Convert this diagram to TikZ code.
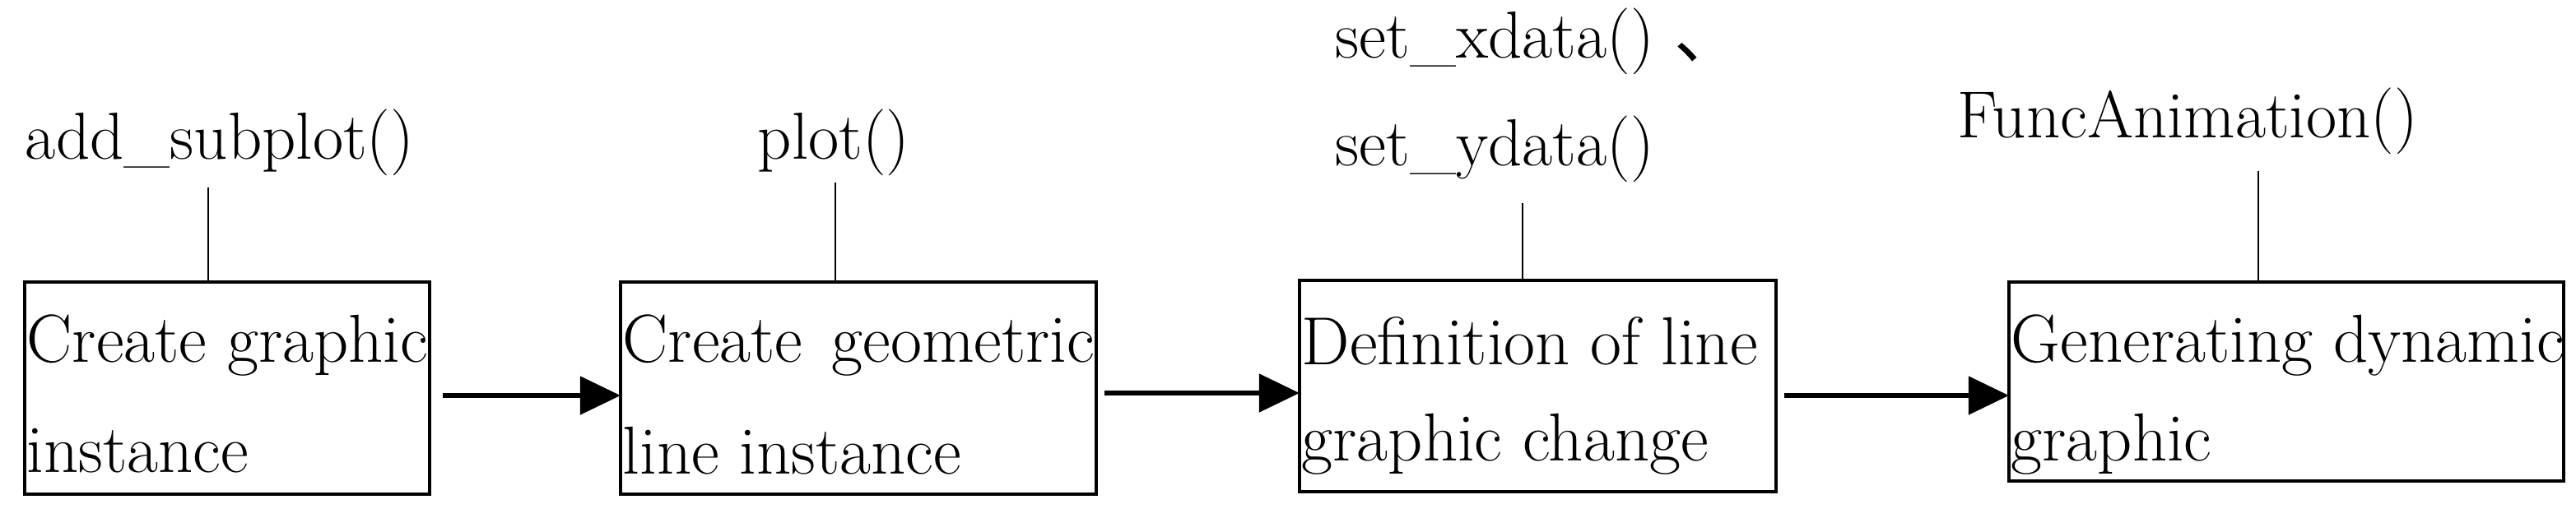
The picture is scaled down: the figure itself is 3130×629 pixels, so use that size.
\documentclass[tikz,border=0pt]{standalone}
\usepackage{fontspec}
\newfontfamily\cjkf{Noto Sans CJK SC}
\usetikzlibrary{arrows.meta}
\begin{document}
\begin{tikzpicture}[x=0.01cm,y=-0.01cm,
  box/.style={draw,line width=1.3pt},
  lbl/.style={font=\fontsize{23}{27}\selectfont,inner sep=0pt},
  txt/.style={font=\fontsize{23.5}{27}\selectfont,anchor=west,inner sep=0pt},
  arr/.style={line width=1.8pt,-{Triangle[length=14pt,width=13pt]}},
  stem/.style={line width=0.8pt}]
\useasboundingbox (0,0) rectangle (3130,629);
\draw[box] (30,343) rectangle (522,601);
\draw[box] (754,343) rectangle (1332,601);
\draw[box] (1579,341) rectangle (2158,598);
\draw[box] (2441,343) rectangle (3115,585);
\coordinate (b1n) at (253,343);
\coordinate (b2n) at (1015,343);
\coordinate (b3n) at (1850,341);
\coordinate (b4n) at (2744,343);
\node[txt] (t1a) at (32,420) {Create graphic};
\node[txt] (t1b) at (32,548) {instance};
\node[txt] (t2a) at (756,420) {Create\hspace{10pt}geometric};
\node[txt] (t2b) at (756,548) {line instance};
\node[txt] (t3a) at (1581,415) {Definition of line};
\node[txt] (t3b) at (1581,540) {graphic change};
\node[txt] (t4a) at (2443,420) {Generating dynamic};
\node[txt] (t4b) at (2443,540) {graphic};
\node[lbl] (l1) at (267,173) {add\_subplot()};
\node[lbl] (l2) at (1013,173) {plot()};
\node[lbl,anchor=west] (l3a) at (1622,50) {set\_xdata() {\cjkf 、}};
\node[lbl,anchor=west] (l3b) at (1622,181) {set\_ydata()};
\node[lbl] (l4) at (2658,147) {FuncAnimation()};
\coordinate (s1) at (253,228);
\coordinate (s2) at (1015,222);
\coordinate (s3) at (1850,247);
\coordinate (s4) at (2744,208);
\draw[stem] (s1) -- (b1n);
\draw[stem] (s2) -- (b2n);
\draw[stem] (s3) -- (b3n);
\draw[stem] (s4) -- (b4n);
\coordinate (a1s) at (538,481); \coordinate (a1e) at (754,481);
\coordinate (a2s) at (1342,478); \coordinate (a2e) at (1579,478);
\coordinate (a3s) at (2168,481); \coordinate (a3e) at (2441,481);
\draw[arr] (a1s) -- (a1e);
\draw[arr] (a2s) -- (a2e);
\draw[arr] (a3s) -- (a3e);
\end{tikzpicture}
\end{document}
